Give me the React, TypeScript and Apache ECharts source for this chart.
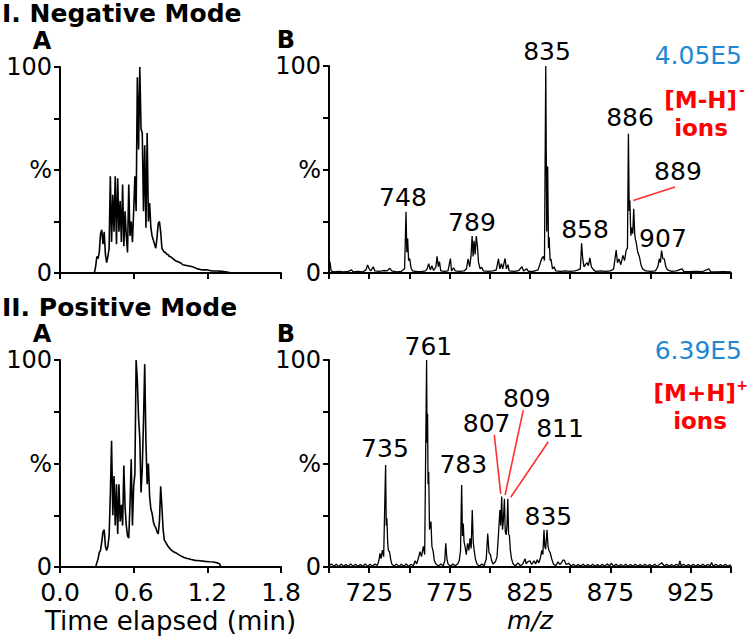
import React, { useEffect, useRef } from 'react';
import * as echarts from 'echarts';

const FONT = '"DejaVu Sans", "Liberation Sans", sans-serif';

// ---------- DATA ----------
// I.A  Negative mode total ion chromatogram: [time (min), relative %]
const negTic: [number, number][] = [
  [0, 0], [0.28, 0], [0.29, 3], [0.30, 8], [0.31, 7], [0.32, 10], [0.33, 19], [0.34, 21], [0.35, 14],
  [0.36, 20], [0.37, 9], [0.38, 5], [0.39, 8], [0.40, 12], [0.41, 47], [0.42, 15], [0.43, 38],
  [0.44, 20], [0.45, 47], [0.46, 14], [0.47, 46], [0.48, 20], [0.49, 35], [0.50, 15], [0.51, 43],
  [0.52, 13], [0.53, 30], [0.54, 18], [0.55, 10], [0.56, 43], [0.57, 18], [0.58, 25], [0.59, 15],
  [0.60, 30], [0.61, 47], [0.62, 30], [0.63, 95], [0.64, 60], [0.65, 100], [0.66, 70], [0.67, 68],
  [0.68, 30], [0.69, 62], [0.70, 22], [0.71, 68], [0.72, 25], [0.73, 34], [0.74, 22], [0.75, 18],
  [0.76, 16], [0.77, 14], [0.78, 12], [0.79, 17], [0.80, 24], [0.81, 25], [0.82, 20], [0.83, 12],
  [0.84, 11], [0.85, 10], [0.86, 10], [0.87, 9], [0.88, 9], [0.89, 8], [0.90, 8], [0.92, 7],
  [0.94, 6], [0.96, 5.5], [0.98, 5], [1.00, 4], [1.04, 3.5], [1.08, 3], [1.12, 2], [1.16, 1.5],
  [1.20, 1.5], [1.24, 1], [1.28, 1], [1.32, 0.8], [1.36, 0.5], [1.40, 0], [1.80, 0],
];

// II.A  Positive mode total ion chromatogram
const posTic: [number, number][] = [
  [0, 0], [0.29, 0], [0.30, 2], [0.31, 4], [0.32, 7], [0.33, 8], [0.34, 12], [0.35, 17], [0.36, 18],
  [0.37, 10], [0.38, 8], [0.39, 10], [0.40, 15], [0.41, 35], [0.42, 61], [0.43, 25], [0.44, 44],
  [0.45, 20], [0.46, 40], [0.47, 16], [0.48, 40], [0.49, 22], [0.50, 30], [0.51, 20], [0.52, 49],
  [0.53, 29], [0.54, 20], [0.55, 15], [0.56, 14], [0.57, 30], [0.58, 52], [0.59, 20], [0.60, 39],
  [0.61, 45], [0.62, 100], [0.63, 90], [0.64, 72], [0.65, 62], [0.66, 36], [0.67, 48], [0.68, 70],
  [0.69, 98], [0.70, 60], [0.71, 40], [0.72, 50], [0.73, 34], [0.74, 28], [0.75, 26], [0.76, 22],
  [0.77, 20], [0.78, 19], [0.79, 17], [0.80, 16], [0.81, 22], [0.82, 39], [0.83, 29], [0.84, 18],
  [0.85, 13], [0.86, 12], [0.87, 11], [0.88, 10], [0.90, 8.5], [0.92, 7.5], [0.95, 6.6], [0.98, 5.5],
  [1.01, 4.6], [1.03, 4.2], [1.07, 3.6], [1.10, 3.2], [1.14, 3], [1.18, 2.7], [1.22, 2.5], [1.25, 2.4],
  [1.28, 2], [1.30, 1.5], [1.31, 0], [1.80, 0],
];

// I.B  Negative mode mass spectrum: [m/z, relative %]
const negSpec: [number, number][] = [
  [700, 0.5], [700.6, 5.5], [701.3, 1], [703, 0.5], [706, 0.8], [709, 0.5], [712, 0.8], [714, 1.5],
  [715, 0.5], [718, 0.8], [721, 0.5], [723, 1.5], [724, 3.9], [725, 2], [726, 1], [727.5, 3],
  [728.5, 1], [731, 0.8], [734, 1.2], [736, 1], [737.9, 2.3], [739, 1], [742, 0.5], [745, 0.8],
  [747, 2], [747.9, 29.6], [748.4, 10], [748.9, 16.7], [749.5, 6], [750.2, 7], [751, 2.5], [752, 1],
  [755, 0.6], [758, 0.8], [760, 1], [761, 2], [762, 4.5], [763, 1.5], [764, 3.5], [765, 1.2],
  [766.5, 3], [767.2, 8], [768, 3], [768.7, 5.5], [769.5, 1], [772, 0.8], [774, 1], [775.5, 7],
  [776.2, 1], [777.5, 2.5], [778.5, 1], [781, 0.8], [784, 1], [785.5, 2], [786.5, 6.8], [787.5, 3],
  [788.3, 8], [789, 17.9], [789.6, 8], [790.2, 15.6], [790.9, 9], [791.6, 17.9], [792.3, 13],
  [793, 5], [794, 2], [795, 2.8], [796, 1], [799, 0.8], [802, 1], [804, 1.5], [805.4, 6.8],
  [806.2, 2], [807.2, 4.5], [808, 2], [809.5, 7], [810.3, 2], [811.3, 4], [812, 1], [815, 0.8],
  [818, 1.2], [820, 3], [821, 1], [823, 2], [824, 0.8], [827, 0.8], [830, 1.5], [832.3, 7],
  [833.3, 8], [834, 6], [834.8, 100], [835.4, 20], [836, 51.4], [836.5, 12], [836.9, 17.4],
  [837.5, 6], [838, 6.8], [839, 2], [840, 3], [841, 1], [844, 0.8], [847, 1], [850, 0.8], [853, 1],
  [855, 1.5], [856.3, 2], [857.1, 14.3], [857.8, 6.8], [858.6, 3], [859.5, 4], [860.5, 5],
  [861.3, 3.5], [862.2, 7.3], [863.2, 3], [864.5, 1.5], [866, 0.8], [869, 1], [872, 0.8], [875, 1],
  [877, 2], [878.6, 11.1], [879.4, 5], [880.3, 6.8], [881.5, 4], [882.8, 8.5], [883.8, 6],
  [884.8, 11], [885.6, 12], [886.2, 67.3], [886.7, 30], [887.1, 35], [887.7, 18], [888.3, 22],
  [888.9, 19], [889.5, 31], [890.1, 19], [890.6, 16], [891, 15], [892, 10], [893, 8], [894, 4],
  [895, 2], [897, 1], [900, 0.8], [903, 1], [904.5, 3], [905.4, 6.8], [906.1, 5], [906.8, 10.8],
  [907.6, 7], [908.5, 6.8], [909.5, 3], [910.5, 1.5], [913, 0.8], [916, 1], [919.6, 2], [920.5, 0.8],
  [924, 0.6], [928, 0.8], [932, 0.6], [936.2, 2], [937.5, 0.6], [941, 0.5], [945, 0.6], [950, 0.5],
];

// II.B  Positive mode mass spectrum
const posSpec: [number, number][] = [
  [700, 0.6], [701.5, 1.5], [703, 0.4], [704.5, 1.3], [706, 0.3], [707.5, 1.4], [709, 0.4], [710.5, 1.2],
  [712, 0.3], [713.5, 1.5], [715, 0.4], [716.5, 1.3], [718, 0.3], [719.5, 1.2], [721, 0.4], [722.5, 1.5],
  [724, 0.3], [725.5, 1.3], [727, 0.4], [728.5, 1.4], [730, 0.8], [731, 3], [731.7, 6.6], [732.4, 4],
  [733.2, 8.2], [734, 5], [735.2, 49.3], [735.6, 20], [736, 23.5], [736.5, 12], [736.9, 8],
  [737.6, 7.5], [738.3, 4], [739, 1.5], [740.5, 0.4], [742, 1.4], [743.5, 0.3], [745, 1.3], [746.5, 0.4],
  [748, 1.5], [749.5, 0.3], [751, 1.3], [752.5, 0.6], [753.5, 3], [754.5, 1.5], [755.5, 4], [756.6, 7.4],
  [757.5, 5], [758.7, 10], [759.5, 6], [760.7, 100], [761, 60], [761.3, 74], [761.6, 40], [762, 46],
  [762.5, 18], [763.4, 22], [764, 10], [764.8, 7.4], [765.5, 3], [766.5, 1.5], [768, 0.4], [769.5, 1.5],
  [771, 0.6], [772, 3], [772.6, 11.4], [773.3, 4], [774, 1.5], [775.5, 0.4], [777, 1.4], [778.5, 0.6],
  [780, 1.5], [781, 3], [781.8, 8], [782.5, 39.6], [783, 15], [783.5, 21], [784, 12], [784.6, 10],
  [785.4, 6], [786.2, 11.4], [787, 8], [787.7, 13.8], [788.4, 9], [789.1, 27.5], [789.7, 12],
  [790.3, 8], [791, 4], [792, 1.5], [793.5, 0.4], [795, 1.4], [796.5, 0.6], [797.8, 4], [798.7, 16.2],
  [799.5, 7], [800.4, 6], [801.2, 3], [802, 1.5], [803.5, 2.5], [804.5, 5], [805.4, 16], [806.3, 27.5],
  [806.8, 20], [807.4, 34], [807.9, 18], [808.4, 22], [809.1, 33], [809.6, 17], [810.2, 15.5],
  [810.7, 20], [811.2, 33], [811.7, 16], [812.2, 15], [812.8, 8], [813.5, 4], [814.5, 1.5], [816, 0.6],
  [817.5, 2], [819, 0.6], [820.5, 1.5], [821.9, 4], [822.6, 1.5], [823.5, 2.5], [825, 3], [826, 1.2],
  [827.5, 3], [828.5, 1.5], [829.5, 3.5], [830.5, 2], [831.5, 4.5], [832.3, 8], [833, 6], [833.7, 18],
  [834.2, 10], [834.7, 8.6], [835.6, 18], [836.2, 10], [836.8, 8], [837.5, 7], [838.5, 4], [839.5, 1.5],
  [841, 0.6], [842.5, 2.5], [843.5, 1.2], [844.5, 2], [845.7, 3.5], [846.5, 3], [847.5, 1.2], [849, 1.8],
  [850.5, 0.5], [852, 1.3], [853.5, 0.4], [855, 1.2], [856.5, 0.4], [858, 1.3], [859.5, 0.4], [861, 1.2],
  [862.5, 0.4], [864, 1.3], [865.5, 0.4], [867, 1.2], [868.5, 0.4], [870, 1.3], [871.5, 0.4], [873, 1.4],
  [874.5, 0.6], [875.5, 1.8], [877, 0.4], [878.5, 1.3], [880, 0.4], [881.5, 1.2], [883, 0.4], [884.5, 1.3],
  [886, 0.4], [887.5, 1.2], [889, 0.4], [890.5, 1.3], [892, 0.4], [893.5, 1.2], [895, 0.4], [896.5, 1.3],
  [898, 0.4], [899.5, 1.2], [901, 0.4], [902.5, 1.3], [904, 0.4], [905.5, 1.2], [907, 2], [908.5, 0.4],
  [910, 1.3], [911.5, 0.4], [913, 1.2], [914.5, 0.4], [916, 1.3], [917.5, 0.6], [918.2, 3], [919, 0.6],
  [920.5, 1.3], [922, 0.4], [923.5, 1.2], [925, 0.4], [926.5, 1.3], [928, 0.4], [929.5, 1.2], [931, 0.4],
  [932.5, 1.3], [934, 0.4], [935.5, 1.2], [937, 0.6], [937.9, 2.2], [939, 0.4], [940.5, 1.3], [942, 0.4],
  [943.5, 1.2], [945, 0.4], [946.5, 1.3], [948, 0.4], [950, 1],
];

// Peak labels: [label x (m/z), label y (%), text]
const negLabels: [number, number, string][] = [
  [835.6, 106.8, '835'], [887.2, 74.9, '886'], [746, 36.7, '748'], [788.9, 24.2, '789'],
  [859.2, 20.8, '858'], [907.7, 16.9, '907'], [917, 48.8, '889'],
];
const posLabels: [number, number, string][] = [
  [734.8, 57.3, '735'], [761.8, 106.4, '761'], [783.5, 49.3, '783'], [798, 69.4, '807'],
  [823, 81.5, '809'], [843.7, 67, '811'], [836.4, 24.6, '835'],
];
// Red leader lines: [x1, y1, x2, y2] in data units
const negLeaders: [number, number, number, number][] = [[889.2, 35, 915.2, 41.5]];
const posLeaders: [number, number, number, number][] = [
  [806.8, 35.3, 802.8, 63.8], [809.5, 34.8, 820.8, 75.8], [813, 33.7, 836.4, 60.5],
];

const timeTicks = { min: 0, max: 1.8, interval: 0.6 };
const mzTicks = { min: 700, max: 950, interval: 25 };
const pctTicks = { min: 0, max: 100, interval: 25 };

// ---------- CHART ----------
const axisLine = { show: true, lineStyle: { color: '#000', width: 2 } };
const axisTick = { show: true, length: 6, lineStyle: { color: '#000', width: 2 } };

function yAxisFor(gridIndex: number) {
  return {
    type: 'value', gridIndex, ...pctTicks,
    axisLine, axisTick, splitLine: { show: false },
    axisLabel: {
      margin: 8, color: '#000', fontSize: 24, fontFamily: FONT, lineHeight: 20,
      formatter: (v: number) => (v === 0 ? '0' : v === 50 ? '%' : v === 100 ? '100' : ''),
    },
  };
}

function timeAxis(gridIndex: number, labels: boolean) {
  return {
    type: 'value', gridIndex, ...timeTicks,
    axisLine, axisTick, splitLine: { show: false },
    axisLabel: {
      show: labels, margin: 15, color: '#000', fontSize: 25, fontFamily: FONT, lineHeight: 20,
      formatter: (v: number) => v.toFixed(1),
    },
    name: labels ? 'Time elapsed (min)' : '',
    nameLocation: 'middle', nameGap: 43,
    nameTextStyle: { color: '#000', fontSize: 26, fontFamily: FONT, lineHeight: 22 },
  };
}

function mzAxis(gridIndex: number, labels: boolean) {
  return {
    type: 'value', gridIndex, ...mzTicks,
    axisLine, axisTick, splitLine: { show: false },
    axisLabel: {
      show: labels, margin: 15, color: '#000', fontSize: 25, fontFamily: FONT, lineHeight: 20,
      formatter: (v: number) => ((v - 725) % 50 === 0 ? String(v) : ''),
    },
    name: labels ? 'm/z' : '',
    nameLocation: 'middle', nameGap: 42,
    nameTextStyle: { color: '#000', fontSize: 25, fontFamily: FONT, fontStyle: 'italic', lineHeight: 22 },
  };
}

function traceSeries(idx: number, data: [number, number][], width: number, leaders?: [number, number, number, number][]) {
  const s: any = {
    type: 'line', xAxisIndex: idx, yAxisIndex: idx, data, symbol: 'none', showSymbol: false,
    lineStyle: { color: '#000', width }, silent: true, z: 3,
  };
  if (leaders) {
    s.markLine = {
      silent: true, symbol: ['none', 'none'], animation: false,
      label: { show: false },
      lineStyle: { color: '#ff3030', width: 1.6, type: 'solid' },
      data: leaders.map((l) => [{ coord: [l[0], l[1]] }, { coord: [l[2], l[3]] }]),
    };
  }
  return s;
}

function labelSeries(idx: number, data: [number, number, string][]) {
  return {
    type: 'scatter', xAxisIndex: idx, yAxisIndex: idx, clip: false, silent: true,
    symbolSize: 0, itemStyle: { color: '#000', opacity: 1 }, z: 5,
    data,
    label: {
      show: true, position: 'inside', color: '#000', opacity: 1, fontSize: 25, fontFamily: FONT,
      lineHeight: 22, textBorderWidth: 0,
      formatter: (p: any) => p.data[2],
    },
    labelLayout: { hideOverlap: false },
  };
}

function txt(x: number, y: number, text: string, opts: any = {}) {
  return {
    type: 'text', x, y, silent: true,
    style: {
      text, fill: opts.fill || '#000',
      font: `${opts.weight || 'normal'} ${opts.size || 25}px ${FONT}`,
      lineHeight: opts.lh || 20,
      textAlign: opts.align || 'left', textVerticalAlign: 'middle',
      align: opts.align || 'left', verticalAlign: 'middle',
    },
  };
}

const BLUE = '#1e88d4';
const RED = '#ff0000';

const option: any = {
  animation: false,
  backgroundColor: '#fff',
  grid: [
    { left: 60, top: 67, width: 221, height: 206 },
    { left: 329, top: 66, width: 402, height: 207 },
    { left: 60, top: 360, width: 221, height: 207 },
    { left: 329, top: 360, width: 402, height: 207 },
  ],
  xAxis: [timeAxis(0, false), mzAxis(1, false), timeAxis(2, true), mzAxis(3, true)],
  yAxis: [yAxisFor(0), yAxisFor(1), yAxisFor(2), yAxisFor(3)],
  series: [
    traceSeries(0, negTic, 1.6),
    traceSeries(1, negSpec, 1.3, negLeaders),
    traceSeries(2, posTic, 1.6),
    traceSeries(3, posSpec, 1.3, posLeaders),
    labelSeries(1, negLabels),
    labelSeries(3, posLabels),
  ],
  graphic: [
    txt(2, 13, 'I. Negative Mode', { weight: 'bold' }),
    txt(42, 41, 'A', { weight: 'bold', size: 24, align: 'center' }),
    txt(286, 40, 'B', { weight: 'bold', size: 24, align: 'center' }),
    txt(2, 307, 'II. Positive Mode', { weight: 'bold' }),
    txt(42, 334, 'A', { weight: 'bold', size: 24, align: 'center' }),
    txt(286, 334, 'B', { weight: 'bold', size: 24, align: 'center' }),
    txt(742, 55, '4.05E5', { fill: BLUE, align: 'right' }),
    txt(737, 100, '[M-H]', { fill: RED, weight: 'bold', size: 23, align: 'right' }),
    txt(742, 90, '-', { fill: RED, weight: 'bold', size: 14, align: 'center', lh: 12 }),
    txt(701, 128, 'ions', { fill: RED, weight: 'bold', size: 23, align: 'center' }),
    txt(742, 350, '6.39E5', { fill: BLUE, align: 'right' }),
    txt(736, 393, '[M+H]', { fill: RED, weight: 'bold', size: 23, align: 'right' }),
    txt(742, 385, '+', { fill: RED, weight: 'bold', size: 14, align: 'center', lh: 12 }),
    txt(700, 421, 'ions', { fill: RED, weight: 'bold', size: 23, align: 'center' }),
  ],
};

export default function App() {
  const ref = useRef<HTMLDivElement>(null);
  useEffect(() => {
    const chart = echarts.init(ref.current as HTMLDivElement, null, { renderer: 'svg' });
    chart.setOption(option);
    return () => chart.dispose();
  }, []);
  return (
    <div
      ref={ref}
      style={{ position: 'fixed', left: 0, top: 0, width: 750, height: 639, background: '#fff' }}
    />
  );
}
